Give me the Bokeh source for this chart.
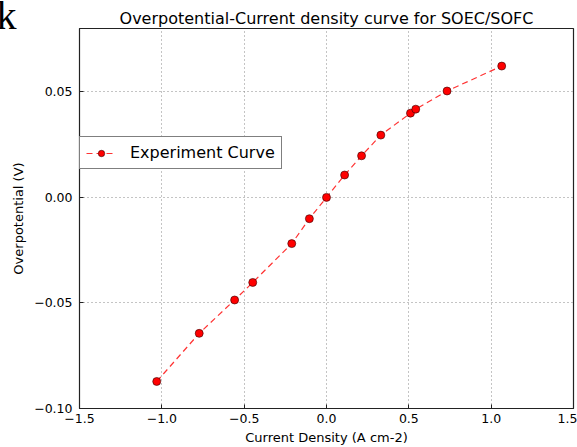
from bokeh.plotting import figure
from bokeh.models import Range1d, FixedTicker, CustomJSTickFormatter, Legend, LegendItem, Title
from bokeh.embed import file_html
from bokeh.resources import INLINE

# data
current_density = [-1.031, -0.773, -0.558, -0.448, -0.211, -0.104, 0.0, 0.110, 0.213, 0.330, 0.510, 0.542, 0.732, 1.064]
overpotential = [-0.0872, -0.0644, -0.0486, -0.0403, -0.0219, -0.0101, 0.0, 0.0106, 0.0197, 0.0295, 0.0399, 0.0418, 0.0504, 0.0622]
x_ticks = [-1.5, -1.0, -0.5, 0.0, 0.5, 1.0, 1.5]
y_ticks = [-0.10, -0.05, 0.0, 0.05]
title_text = "Overpotential-Current density curve for SOEC/SOFC"
panel_tag = "k"

FONT = "DejaVu Sans"

p = figure(width=577, height=447, output_backend="svg", toolbar_location=None,
           x_range=Range1d(-1.5, 1.5), y_range=Range1d(-0.10, 0.08),
           min_border_left=79, min_border_right=4, min_border_top=28, min_border_bottom=39)
p.title.text = ""

# main title (inner, next to the frame)
main_title = Title(text=title_text, align="center", text_font=FONT, text_font_size="16px",
                   text_font_style="normal", text_color="#000000", standoff=2)
p.add_layout(main_title, "above")
# panel tag (outer); negative standoff lets it hang down beside the title
tag_title = Title(text=panel_tag, align="left", offset=-83, text_font="Liberation Serif",
                  text_font_size="40px", text_font_style="normal", text_color="#000000",
                  standoff=-64)
p.add_layout(tag_title, "above")

p.outline_line_color = "#222222"
p.outline_line_width = 1.2
p.background_fill_color = "white"
p.border_fill_color = "white"

for ax in (p.xaxis[0], p.yaxis[0]):
    ax.axis_line_color = "#222222"
    ax.major_tick_in = 4
    ax.major_tick_out = 0
    ax.minor_tick_in = 0
    ax.minor_tick_out = 0
    ax.major_tick_line_color = "#222222"
    ax.major_label_text_font = FONT
    ax.major_label_text_font_size = "12.5px"
    ax.major_label_text_color = "#000000"
    ax.axis_label_text_font = FONT
    ax.axis_label_text_font_size = "13px"
    ax.axis_label_text_font_style = "normal"
    ax.axis_label_text_color = "#000000"

p.xaxis.ticker = FixedTicker(ticks=x_ticks)
p.yaxis.ticker = FixedTicker(ticks=y_ticks)
p.xaxis.formatter = CustomJSTickFormatter(code="""
    if (Math.abs(tick) < 1e-9) return (0).toFixed(1);
    return tick.toFixed(1).replace('-', '\\u2212');
""")
p.yaxis.formatter = CustomJSTickFormatter(code="""
    if (Math.abs(tick) < 1e-9) return (0).toFixed(2);
    return tick.toFixed(2).replace('-', '\\u2212');
""")
p.xaxis.axis_label = "Current Density (A cm-2)"
p.yaxis.axis_label = "Overpotential (V)"
p.xaxis.major_label_standoff = 5
p.yaxis.major_label_standoff = 7
p.xaxis.axis_label_standoff = 4
p.yaxis.axis_label_standoff = 5

p.grid.grid_line_color = "#888888"
p.grid.grid_line_dash = "1 3"
p.grid.grid_line_width = 1

line = p.line(current_density, overpotential, line_color="#ff3333", line_dash="6 4", line_width=1.2)
pts = p.scatter(current_density, overpotential, size=8, fill_color="#ff0000",
                line_color="#330000", line_width=0.6)

legend = Legend(items=[LegendItem(label="Experiment Curve", renderers=[line, pts])],
                location=(0, 239))
legend.label_text_font = FONT
legend.label_text_font_size = "16px"
legend.label_text_color = "#000000"
legend.label_height = 16
legend.glyph_height = 16
legend.glyph_width = 30
legend.label_standoff = 14
legend.padding = 6
legend.margin = 0
legend.spacing = 0
legend.border_line_color = "#000000"
legend.border_line_width = 1
legend.background_fill_alpha = 1.0
p.add_layout(legend, "center")

open("out.html", "w").write(file_html(p, INLINE))
